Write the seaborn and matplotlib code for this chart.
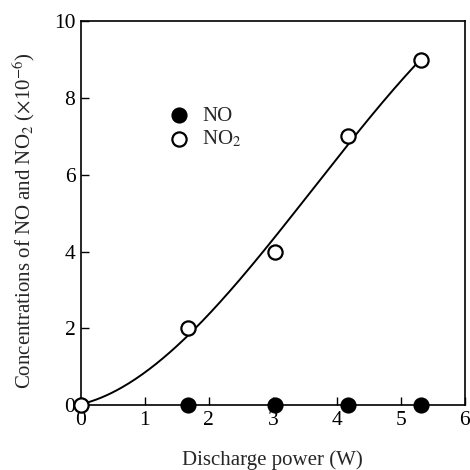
import numpy as np
import pandas as pd
import matplotlib
matplotlib.use("Agg")
import matplotlib.pyplot as plt
import seaborn as sns

# Data
power_no = [1.67, 3.04, 4.17, 5.32]
conc_no = [0.0, 0.0, 0.0, 0.0]
power_no2 = [0.0, 1.67, 3.04, 4.17, 5.32]
conc_no2 = [0.0, 2.0, 4.0, 7.0, 9.0]
# fitted curve points
curve_x = [0.0, 0.5, 1.0, 1.63, 1.78, 3.05, 3.63, 4.17, 5.32]
curve_y = [0.0, 0.39, 0.78, 1.78, 2.04, 4.3, 5.64, 6.86, 9.0]
x_ticks = [0, 1, 2, 3, 4, 5, 6]
y_ticks = [0, 2, 4, 6, 8, 10]

sns.set_theme(style="white")
plt.rcParams['font.family'] = ['Liberation Serif', 'DejaVu Serif']
plt.rcParams['mathtext.fontset'] = 'stix'

fig = plt.figure(figsize=(4.7, 4.7), dpi=100)
ax = fig.add_axes([0.172, 0.138, 0.817, 0.817])

coef = np.polyfit(curve_x, curve_y, 3)
xs = np.linspace(curve_x[0], curve_x[-1], 200)
fit_df = pd.DataFrame({"x": xs, "y": np.polyval(coef, xs)})
sns.lineplot(data=fit_df, x="x", y="y", ax=ax, color="black", linewidth=1.4)

df_no = pd.DataFrame({"x": power_no, "y": conc_no})
df_no2 = pd.DataFrame({"x": power_no2, "y": conc_no2})
sns.scatterplot(data=df_no, x="x", y="y", ax=ax, marker="o", s=105,
                facecolor="black", edgecolor="black", linewidth=1.4,
                clip_on=False, zorder=5, label="NO")
sns.scatterplot(data=df_no2, x="x", y="y", ax=ax, marker="o", s=105,
                facecolor="white", edgecolor="black", linewidth=1.6,
                clip_on=False, zorder=6, label="NO$_2$")

ax.set_xlim(0, 6)
ax.set_ylim(0, 10)
ax.set_xticks(x_ticks)
ax.set_yticks(y_ticks)
ax.tick_params(direction="in", length=6, width=1, labelsize=15.5, colors="black",
               top=False, right=False, bottom=True, left=True, pad=4)
for sp in ax.spines.values():
    sp.set_color("black")
    sp.set_linewidth(1.2)

ax.set_xlabel("Discharge power (W)", fontsize=15, labelpad=15)
ax.set_ylabel("Concentrations of NO and NO$_2$ ($\\times$10$^{-6}$)", fontsize=15)
ax.yaxis.set_label_coords(-0.114, 0.48)

leg = ax.legend(loc="upper left", bbox_to_anchor=(0.208, 0.80), frameon=False,
                fontsize=15, handletextpad=0.6, labelspacing=0.12,
                handlelength=1.0, borderaxespad=0)

fig.savefig("out.png", dpi=100)
